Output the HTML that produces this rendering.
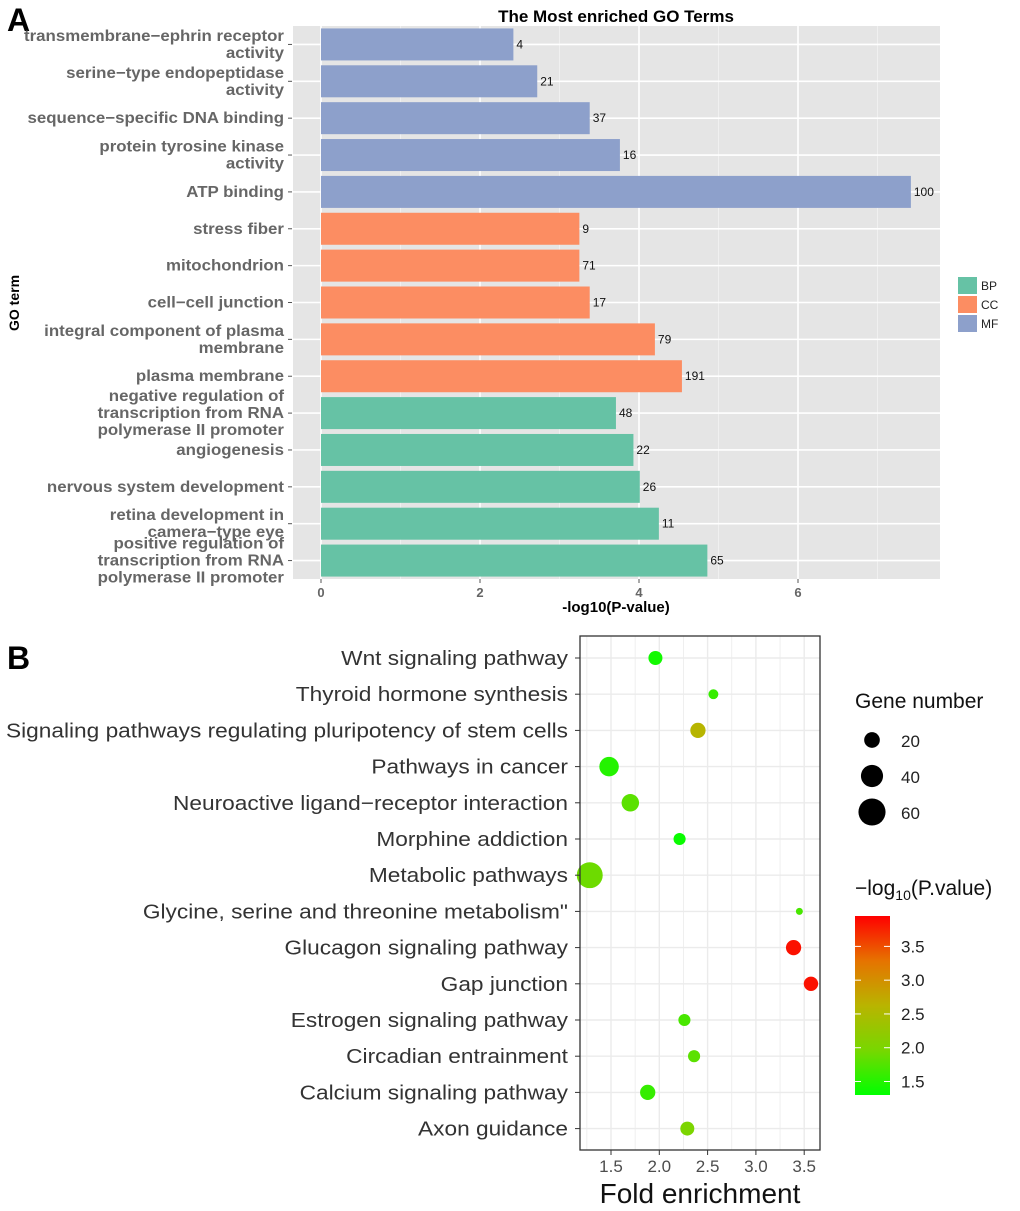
<!DOCTYPE html>
<html><head><meta charset="utf-8"><style>
body{margin:0;background:#fff;}
svg{display:block;font-family:"Liberation Sans",Arial,sans-serif;}
</style></head><body>
<svg id="fig" width="1020" height="1211" viewBox="0 0 1020 1211">
<text x="7" y="31" font-size="32" font-weight="bold">A</text>
<text x="616" y="22" font-size="17" font-weight="bold" text-anchor="middle">The Most enriched GO Terms</text>
<text x="19" y="303" font-size="14" font-weight="bold" text-anchor="middle" transform="rotate(-90 19 303)">GO term</text>
<text x="616" y="612" font-size="15" font-weight="bold" text-anchor="middle">-log10(P-value)</text>
<g id="chartA"></g>
<g id="legendA"></g>
<text x="7" y="669" font-size="32" font-weight="bold">B</text>
<g id="chartB"></g>
<text x="700" y="1203" font-size="28" fill="#111" text-anchor="middle">Fold enrichment</text>
</svg>
<script>
// ---- Chart A data ----
const goTerms = [
 ["transmembrane\u2212ephrin receptor","activity"],
 ["serine\u2212type endopeptidase","activity"],
 ["sequence\u2212specific DNA binding"],
 ["protein tyrosine kinase","activity"],
 ["ATP binding"],
 ["stress fiber"],
 ["mitochondrion"],
 ["cell\u2212cell junction"],
 ["integral component of plasma","membrane"],
 ["plasma membrane"],
 ["negative regulation of","transcription from RNA","polymerase II promoter"],
 ["angiogenesis"],
 ["nervous system development"],
 ["retina development in","camera\u2212type eye"],
 ["positive regulation of","transcription from RNA","polymerase II promoter"]
];
const goCategory = ["MF","MF","MF","MF","MF","CC","CC","CC","CC","CC","BP","BP","BP","BP","BP"];
const goLogP = [2.42,2.72,3.38,3.76,7.42,3.25,3.25,3.38,4.2,4.54,3.71,3.93,4.01,4.25,4.86];
const goCounts = [4,21,37,16,100,9,71,17,79,191,48,22,26,11,65];
const xTicksA = [0,2,4,6];
const categories = ["BP","CC","MF"];
const catColors = {BP:"#66c2a5",CC:"#fc8d62",MF:"#8da0cb"};

const NS="http://www.w3.org/2000/svg";
function mk(tag,attrs,parent){const e=document.createElementNS(NS,tag);for(const k in attrs)e.setAttribute(k,attrs[k]);parent.appendChild(e);return e;}

const gA=document.getElementById('chartA');
const pA={l:293,r:940,t:26,b:579};
const xA=v=>321+v*79.5;
const rowH=(pA.b-pA.t)/goTerms.length;
const yA=i=>pA.t+rowH*(i+0.5);
let bg=mk('rect',{x:pA.l,y:pA.t,width:pA.r-pA.l,height:pA.b-pA.t,fill:"#e5e5e5"},gA);


for(let v=0;v<=7;v+=1){const x=xA(v);if(x>pA.r)break;mk('line',{x1:x,x2:x,y1:pA.t,y2:pA.b,stroke:"#fff","stroke-width":v%2===0?1.6:0.6,opacity:v%2===0?1:0.7},gA);}
goTerms.forEach((t,i)=>{
  mk('line',{x1:pA.l,x2:pA.r,y1:yA(i),y2:yA(i),stroke:"#fff","stroke-width":1.6},gA);
});
const labelsA=[];
goTerms.forEach((t,i)=>{
  const y=yA(i);
  const bar=mk('rect',{x:xA(0),y:y-16,width:xA(goLogP[i])-xA(0),height:32,fill:catColors[goCategory[i]]},gA);
  
  
  const lab=mk('text',{x:xA(goLogP[i])+3,y:y+4,"font-size":12,fill:"#111"},gA);
  lab.textContent=goCounts[i];
  
  
  mk('line',{x1:pA.l-5,x2:pA.l-1,y1:y,y2:y,stroke:"#555"},gA);
  const n=t.length, lh=17;
  const tl=mk('text',{x:284,"font-size":15.5,"font-weight":"bold",fill:"#666","text-anchor":"end"},gA);
  
  
  t.forEach((line,j)=>{const ts=mk('tspan',{x:284,y:y+5+(j-(n-1)/2)*lh},tl);ts.textContent=line;labelsA.push(ts);});
});
// stretch to match reference width (widest line spans 24..284)
(function(){let mx=0;labelsA.forEach(s=>{mx=Math.max(mx,s.getComputedTextLength());});const k=260/mx;labelsA.forEach(s=>{s.setAttribute('textLength',(s.getComputedTextLength()*k).toFixed(1));s.setAttribute('lengthAdjust','spacingAndGlyphs');});})();
xTicksA.forEach(v=>{
  mk('line',{x1:xA(v),x2:xA(v),y1:pA.b,y2:pA.b+4,stroke:"#555"},gA);
  const t=mk('text',{x:xA(v),y:pA.b+18,"font-size":13,"font-weight":"bold",fill:"#666","text-anchor":"middle"},gA);
  t.textContent=v;
  
  
});
const lg=document.getElementById('legendA');
categories.forEach((c,i)=>{
  const y=277+i*19;
  const r=mk('rect',{x:958,y:y,width:19,height:17,fill:catColors[c]},lg);
  
  
  const t=mk('text',{x:981,y:y+13,"font-size":12,fill:"#222"},lg);
  t.textContent=c;
  
  
});

// ---- Chart B data ----
const pathways = ["Wnt signaling pathway","Thyroid hormone synthesis","Signaling pathways regulating pluripotency of stem cells","Pathways in cancer","Neuroactive ligand\u2212receptor interaction","Morphine addiction","Metabolic pathways","Glycine, serine and threonine metabolism\"","Glucagon signaling pathway","Gap junction","Estrogen signaling pathway","Circadian entrainment","Calcium signaling pathway","Axon guidance"];
const foldEnrichment = [1.96,2.56,2.40,1.48,1.70,2.21,1.28,3.45,3.39,3.57,2.26,2.36,1.88,2.29];
const geneNumber = [16,8,19,31,25,12,55,4,19,17,12,12,19,16];
const negLogP = [1.4,1.6,2.6,1.5,1.8,1.35,1.9,1.7,3.85,3.85,1.7,1.8,1.6,2.0];
const xTicksB = [1.5,2.0,2.5,3.0,3.5];
const sizeLegend = [20,40,60];
const colorTicks = [1.5,2.0,2.5,3.0,3.5];

const gB=document.getElementById('chartB');
const pB={l:580,r:820,t:636,b:1150};
const xB=v=>611+(v-1.5)*96.6;
const yB=i=>658+i*36.2;
const rB=n=>Math.sqrt(n)*1.75;
const cMin=1.3,cMax=3.95;
// green -> olive/yellow -> red (Lab-like)
const rampStops=[[0,[0,255,0]],[0.25,[120,215,0]],[0.5,[185,180,0]],[0.75,[230,115,0]],[1,[255,0,0]]];
function col(v){const f=Math.max(0,Math.min(1,(v-cMin)/(cMax-cMin)));
  for(let i=0;i<rampStops.length-1;i++){const [a,ca]=rampStops[i],[b,cb]=rampStops[i+1];
    if(f<=b){const t=(f-a)/(b-a);return `rgb(${ca.map((c,j)=>Math.round(c+(cb[j]-c)*t)).join(',')})`;}}
  return 'rgb(255,0,0)';}
mk('rect',{x:pB.l,y:pB.t,width:pB.r-pB.l,height:pB.b-pB.t,fill:"#fff"},gB);
for(let v=1.25;v<=3.6;v+=0.25){mk('line',{x1:xB(v),x2:xB(v),y1:pB.t,y2:pB.b,stroke:"#ebebeb","stroke-width":(Math.abs(v*2-Math.round(v*2))<0.01)?1.4:0.8},gB);}
pathways.forEach((p,i)=>mk('line',{x1:pB.l,x2:pB.r,y1:yB(i),y2:yB(i),stroke:"#ebebeb","stroke-width":1.4},gB));
const labelsB=[];
pathways.forEach((p,i)=>{
  const c=mk('circle',{cx:xB(foldEnrichment[i]),cy:yB(i),r:rB(geneNumber[i]),fill:col(negLogP[i])},gB);
  
  
  mk('line',{x1:pB.l-5,x2:pB.l,y1:yB(i),y2:yB(i),stroke:"#333"},gB);
  const t=mk('text',{x:568,y:yB(i)+7,"font-size":20.5,fill:"#333","text-anchor":"end"},gB);
  t.textContent=p;
  
  
  labelsB.push(t);
});
(function(){let mx=0;labelsB.forEach(s=>{mx=Math.max(mx,s.getComputedTextLength());});const k=562/mx;labelsB.forEach(s=>{s.setAttribute('textLength',(s.getComputedTextLength()*k).toFixed(1));s.setAttribute('lengthAdjust','spacingAndGlyphs');});})();
mk('rect',{x:pB.l,y:pB.t,width:pB.r-pB.l,height:pB.b-pB.t,fill:"none",stroke:"#333","stroke-width":1.3},gB);
xTicksB.forEach(v=>{
  mk('line',{x1:xB(v),x2:xB(v),y1:pB.b,y2:pB.b+5,stroke:"#333"},gB);
  const t=mk('text',{x:xB(v),y:pB.b+22,"font-size":17,fill:"#4d4d4d","text-anchor":"middle"},gB);
  t.textContent=v.toFixed(1);
  
  
});
// size legend
const st=mk('text',{x:855,y:708,"font-size":21,fill:"#111"},gB);
st.textContent="Gene number";


sizeLegend.forEach((n,i)=>{
  const y=740+i*36;
  const c=mk('circle',{cx:872,cy:y,r:rB(n),fill:"#000"},gB);
  
  
  const t=mk('text',{x:901,y:y+7,"font-size":17,fill:"#222"},gB);
  t.textContent=n;
  
  
});
// color legend
const ct=mk('text',{x:855,y:895,"font-size":21,fill:"#111"},gB);
ct.innerHTML='\u2212log<tspan font-size="14" dy="5">10</tspan><tspan dy="-5">(P.value)</tspan>';


const defs=mk('defs',{},gB);
const lgGrad=mk('linearGradient',{id:"cg",x1:0,y1:1,x2:0,y2:0},defs);
rampStops.forEach(s=>mk('stop',{offset:s[0],"stop-color":`rgb(${s[1].join(',')})`},lgGrad));
const cbTop=916,cbBot=1095;
const cb=mk('rect',{x:855,y:cbTop,width:35,height:cbBot-cbTop,fill:"url(#cg)"},gB);


const yC=v=>cbBot-(v-cMin)/(cMax-cMin)*(cbBot-cbTop);
colorTicks.forEach(v=>{
  const y=yC(v);
  mk('line',{x1:855,x2:861,y1:y,y2:y,stroke:"#fff"},gB);
  mk('line',{x1:884,x2:890,y1:y,y2:y,stroke:"#fff"},gB);
  const t=mk('text',{x:901,y:y+6,"font-size":17,fill:"#222"},gB);
  t.textContent=v.toFixed(1);
  
  
});
</script>
</body></html>
